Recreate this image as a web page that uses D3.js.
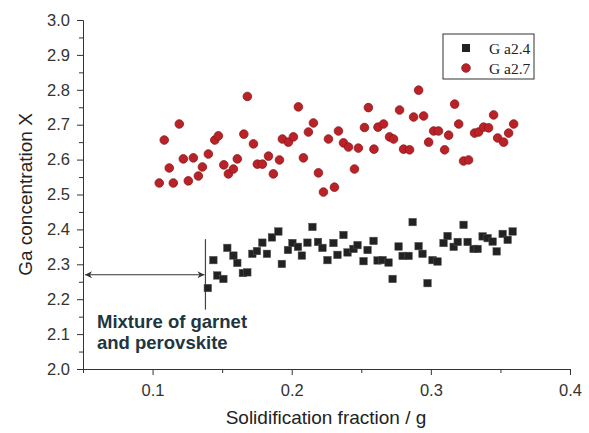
<!DOCTYPE html>
<html>
<head>
<meta charset="utf-8">
<script src="https://cdn.jsdelivr.net/npm/d3@7/dist/d3.min.js"></script>
<style>
  body { margin: 0; background: #fff; }
  svg { display: block; font-family: Arial, "Liberation Sans", sans-serif; }
  .axis path, .axis line { stroke: #333; }
  .axis text { fill: #333; font-size: 16.5px; font-family: Arial, "Liberation Sans", sans-serif; }
</style>
</head>
<body>
<svg id="chart" width="589" height="433"></svg>
<script>
// Ga2.4 series (black squares)
const ga24X = [0.1397, 0.1437, 0.1465, 0.1509, 0.1537, 0.1581, 0.1609, 0.1649, 0.1681, 0.1717,
  0.1750, 0.1789, 0.1822, 0.1858, 0.1904, 0.1929, 0.1973, 0.2005, 0.2045, 0.2073,
  0.2113, 0.2149, 0.2189, 0.2221, 0.2257, 0.2300, 0.2329, 0.2372, 0.2401, 0.2444,
  0.2473, 0.2516, 0.2545, 0.2588, 0.2617, 0.2653, 0.2696, 0.2725, 0.2768, 0.2797,
  0.2840, 0.2869, 0.2912, 0.2940, 0.2976, 0.3012, 0.3048, 0.3091, 0.3120, 0.3164,
  0.3193, 0.3235, 0.3264, 0.3307, 0.3336, 0.3372, 0.3408, 0.3444, 0.3473, 0.3516,
  0.3552, 0.3588];
const ga24Y = [2.232, 2.312, 2.268, 2.258, 2.347, 2.325, 2.304, 2.275, 2.277, 2.330,
  2.338, 2.362, 2.330, 2.377, 2.394, 2.301, 2.341, 2.361, 2.350, 2.325,
  2.362, 2.407, 2.364, 2.347, 2.312, 2.361, 2.327, 2.384, 2.334, 2.344,
  2.355, 2.309, 2.341, 2.367, 2.311, 2.312, 2.305, 2.258, 2.351, 2.324,
  2.324, 2.421, 2.352, 2.330, 2.246, 2.312, 2.308, 2.361, 2.381, 2.350,
  2.364, 2.413, 2.364, 2.344, 2.344, 2.380, 2.375, 2.365, 2.337, 2.387,
  2.370, 2.394];

// Ga2.7 series (red circles)
const ga27X = [0.1048, 0.1084, 0.1120, 0.1149, 0.1192, 0.1221, 0.1257, 0.1293, 0.1329, 0.1358,
  0.1401, 0.1447, 0.1473, 0.1512, 0.1545, 0.1581, 0.1609, 0.1656, 0.1681, 0.1725,
  0.1753, 0.1789, 0.1833, 0.1868, 0.1912, 0.1933, 0.1976, 0.2012, 0.2048, 0.2084,
  0.2120, 0.2156, 0.2192, 0.2228, 0.2264, 0.2307, 0.2336, 0.2372, 0.2408, 0.2451,
  0.2479, 0.2523, 0.2551, 0.2591, 0.2620, 0.2660, 0.2703, 0.2732, 0.2775, 0.2804,
  0.2847, 0.2876, 0.2912, 0.2948, 0.2984, 0.3020, 0.3055, 0.3099, 0.3128, 0.3171,
  0.3200, 0.3235, 0.3271, 0.3314, 0.3343, 0.3379, 0.3415, 0.3451, 0.3480, 0.3523,
  0.3559, 0.3595];
const ga27Y = [2.533, 2.656, 2.576, 2.533, 2.702, 2.602, 2.539, 2.605, 2.553, 2.579,
  2.616, 2.656, 2.668, 2.585, 2.559, 2.573, 2.602, 2.673, 2.781, 2.645,
  2.587, 2.587, 2.610, 2.559, 2.599, 2.659, 2.650, 2.665, 2.751, 2.605,
  2.679, 2.705, 2.562, 2.507, 2.659, 2.521, 2.682, 2.648, 2.636, 2.573,
  2.633, 2.692, 2.749, 2.630, 2.693, 2.702, 2.665, 2.659, 2.742, 2.630,
  2.628, 2.722, 2.799, 2.725, 2.650, 2.682, 2.682, 2.628, 2.670, 2.759,
  2.702, 2.596, 2.599, 2.676, 2.679, 2.693, 2.691, 2.728, 2.662, 2.650,
  2.676, 2.702];

const seriesNames = ['G a2.4', 'G a2.7'];
const xTicks = [0.1, 0.2, 0.3, 0.4];
const xMinorTicks = [0.05, 0.15, 0.25, 0.35];
const yTicks = [2.0, 2.1, 2.2, 2.3, 2.4, 2.5, 2.6, 2.7, 2.8, 2.9, 3.0];
const yMinorTicks = [2.05, 2.15, 2.25, 2.35, 2.45, 2.55, 2.65, 2.75, 2.85, 2.95];

// annotation: boundary of the garnet + perovskite region
const mixBoundaryX = 0.138;
const mixArrowY = 2.27;
const mixLineY = [2.17, 2.372];

const svg = d3.select('#chart');
const x = d3.scaleLinear().domain([0.05, 0.4]).range([83, 570]);
const y = d3.scaleLinear().domain([2.0, 3.0]).range([369, 20]);

svg.append('defs').append('marker')
  .attr('id', 'arrowhead')
  .attr('viewBox', '0 0 10 10')
  .attr('refX', 10).attr('refY', 5)
  .attr('markerWidth', 9).attr('markerHeight', 7)
  .attr('markerUnits', 'userSpaceOnUse')
  .attr('orient', 'auto-start-reverse')
  .append('path').attr('d', 'M0,0 L10,5 L0,10 L3,5 Z').attr('fill', '#333');

// axes
svg.append('g').attr('class', 'axis')
  .attr('transform', `translate(0,${y(2.0)})`)
  .call(d3.axisBottom(x).tickValues(xMinorTicks).tickFormat('').tickSize(4).tickSizeOuter(0));
svg.append('g').attr('class', 'axis')
  .attr('transform', `translate(0,${y(2.0)})`)
  .call(d3.axisBottom(x).tickValues(xTicks).tickFormat(d3.format('.1f')).tickSize(6).tickSizeOuter(0).tickPadding(9));

svg.append('g').attr('class', 'axis')
  .attr('transform', `translate(${x(0.05)},0)`)
  .call(d3.axisLeft(y).tickValues(yMinorTicks).tickFormat('').tickSize(4).tickSizeOuter(0));
svg.append('g').attr('class', 'axis')
  .attr('transform', `translate(${x(0.05)},0)`)
  .call(d3.axisLeft(y).tickValues(yTicks).tickFormat(d3.format('.1f')).tickSize(6).tickSizeOuter(0).tickPadding(7));

svg.append('text')
  .attr('x', 326).attr('y', 424)
  .attr('text-anchor', 'middle')
  .attr('font-size', 19).attr('fill', '#222')
  .text('Solidification fraction / g');

svg.append('text')
  .attr('transform', `translate(32,${y(2.5)}) rotate(-90)`)
  .attr('text-anchor', 'middle')
  .attr('font-size', 19).attr('fill', '#222')
  .text('Ga concentration X');

// annotation
svg.append('line')
  .attr('x1', x(mixBoundaryX)).attr('x2', x(mixBoundaryX))
  .attr('y1', y(mixLineY[1])).attr('y2', y(mixLineY[0]))
  .attr('stroke', '#444').attr('stroke-width', 1.2);
svg.append('line')
  .attr('x1', x(0.05) + 2).attr('x2', x(mixBoundaryX) - 1)
  .attr('y1', y(mixArrowY)).attr('y2', y(mixArrowY))
  .attr('stroke', '#333').attr('stroke-width', 1.2)
  .attr('marker-start', 'url(#arrowhead)')
  .attr('marker-end', 'url(#arrowhead)');
const note = svg.append('text')
  .attr('font-size', 18.5).attr('font-weight', 'bold').attr('fill', '#1e3640');
note.append('tspan').attr('x', 97).attr('y', 328).text('Mixture of garnet');
note.append('tspan').attr('x', 97).attr('y', 349).text('and perovskite');

// points
const sq = 7.5;
svg.append('g').selectAll('rect')
  .data(ga24X.map((v, i) => ({x: v, y: ga24Y[i]})))
  .join('rect')
  .attr('x', d => x(d.x) - sq / 2)
  .attr('y', d => y(d.y) - sq / 2)
  .attr('width', sq).attr('height', sq)
  .attr('fill', '#222').attr('stroke', '#555').attr('stroke-width', 0.5);

svg.append('g').selectAll('circle')
  .data(ga27X.map((v, i) => ({x: v, y: ga27Y[i]})))
  .join('circle')
  .attr('cx', d => x(d.x))
  .attr('cy', d => y(d.y))
  .attr('r', 4.3)
  .attr('fill', '#bb2228').attr('stroke', '#8a191d').attr('stroke-width', 0.8);

// legend
const legend = svg.append('g');
legend.append('rect')
  .attr('x', 443).attr('y', 34).attr('width', 91).attr('height', 45)
  .attr('fill', '#fff').attr('stroke', '#333').attr('stroke-width', 1);
legend.append('rect')
  .attr('x', 466 - 4).attr('y', 48 - 4).attr('width', 8).attr('height', 8)
  .attr('fill', '#222');
legend.append('circle')
  .attr('cx', 466).attr('cy', 68).attr('r', 4.3)
  .attr('fill', '#bb2228').attr('stroke', '#8a191d').attr('stroke-width', 0.8);
legend.selectAll('text.lbl')
  .data(seriesNames)
  .join('text')
  .attr('class', 'lbl')
  .attr('x', 489).attr('y', (d, i) => 54 + i * 20)
  .attr('font-family', '"Liberation Serif", "DejaVu Serif", serif')
  .attr('font-size', 15.5).attr('fill', '#222')
  .text(d => d);
</script>
</body>
</html>
